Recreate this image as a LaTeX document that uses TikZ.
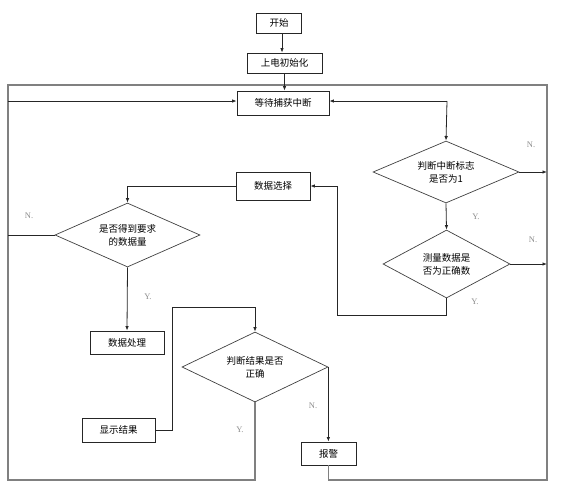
\documentclass[tikz,border=0pt]{standalone}
\usepackage{fontspec}
\setmainfont{Liberation Serif}
\newfontfamily\cjk{Noto Sans CJK SC}
\usetikzlibrary{shapes.geometric,arrows.meta}
\tikzset{
  boxn/.style={draw=black!85,line width=0.8pt,inner sep=0pt,font=\cjk\fontsize{9.5}{11}\selectfont,align=center},
  decn/.style={diamond,draw=black!75,line width=0.7pt,inner sep=0pt,aspect=2.3,font=\cjk\fontsize{9.5}{13}\selectfont,align=center},
  conn/.style={line width=0.8pt,draw=black!85},
  arr/.style={conn,-{Latex[length=4.5pt,width=3.5pt]}},
  framel/.style={line width=1.1pt,draw=black!50},
  yn/.style={font=\fontsize{8.5}{10}\selectfont,text=black!45,inner sep=0pt}
}
\begin{document}
\begin{tikzpicture}[x=1pt,y=-1pt]
\useasboundingbox (0,0) rectangle (561,488);
% boxes
\node[boxn,minimum width=45pt,minimum height=20pt] (start) at (279,23) {开始};
\node[boxn,minimum width=75pt,minimum height=20pt] (init) at (284.5,63) {上电初始化};
\node[boxn,minimum width=92pt,minimum height=24pt] (wait) at (283,103) {等待捕获中断};
\node[boxn,minimum width=74pt,minimum height=28pt] (sel) at (273,186) {数据选择};
\node[boxn,minimum width=74pt,minimum height=23pt] (proc) at (127,342.5) {数据处理};
\node[boxn,minimum width=73pt,minimum height=24pt] (show) at (118.5,430) {显示结果};
\node[boxn,minimum width=55pt,minimum height=23pt] (alarm) at (328.5,453.5) {报警};
% decisions
\node[decn,minimum width=146pt,minimum height=62pt] (d1) at (446,172) {判断中断标志\\是否为1};
\node[decn,minimum width=127pt,minimum height=68pt] (d2) at (446.5,264) {测量数据是\\否为正确数};
\node[decn,minimum width=145pt,minimum height=64pt] (d3) at (127.5,235) {是否得到要求\\的数据量};
\node[decn,minimum width=146pt,minimum height=70pt] (d4) at (255,367) {判断结果是否\\正确};
% frame
\coordinate (fbl) at (8,480);
\coordinate (ftl) at (8,85);
\coordinate (ftr) at (547,85);
\coordinate (fbr) at (547,480);
\draw[framel] (d4.south) -- (d4.south |- fbl) -- (fbl) -- (ftl) -- (ftr) -- (fbr) -- (alarm.south |- fbr) -- (alarm.south);
% connectors
\coordinate (sa) at (282,33);
\draw[arr] (sa) -- (sa |- init.north);
\draw[arr] (init.south) -- (init.south |- wait.north);
\coordinate (lin) at (8,101);
\draw[arr] (lin) -- (lin -| wait.west);
\coordinate (rj) at (447,101);
\draw[arr] (rj) -- (rj -| wait.east);
\draw[arr] (rj) -- (d1.north);
\draw[arr] (d1.east) -- (d1.east -| fbr);
\draw[arr] (d1.south) -- (d2.north);
\draw[arr] (d2.east) -- (d2.east -| fbr);
\coordinate (lp1) at (337,315);
\draw[arr] (d2.south) -- (d2.south |- lp1) -- (lp1) -- (lp1 |- sel.east) -- (sel.east);
\draw[arr] (sel.west) -- (sel.west -| d3.north) -- (d3.north);
\draw[conn] (d3.west) -- (d3.west -| fbl);
\draw[arr] (d3.south) -- (proc.north);
\coordinate (lp2) at (172,307);
\draw[arr] (show.east) -- (show.east -| lp2) -- (lp2) -- (lp2 -| d4.north) -- (d4.north);
\draw[arr] (d4.east) -- (d4.east |- alarm.north);
% labels
\node[yn] (n1) at (531,145) {N.};
\node[yn] (n2) at (533,240) {N.};
\node[yn] (n3) at (29,216) {N.};
\node[yn] (n4) at (313,406) {N.};
\node[yn] (y1) at (476,217) {Y.};
\node[yn] (y2) at (475,302) {Y.};
\node[yn] (y3) at (148,297) {Y.};
\node[yn] (y4) at (240,430) {Y.};
\end{tikzpicture}
\end{document}
